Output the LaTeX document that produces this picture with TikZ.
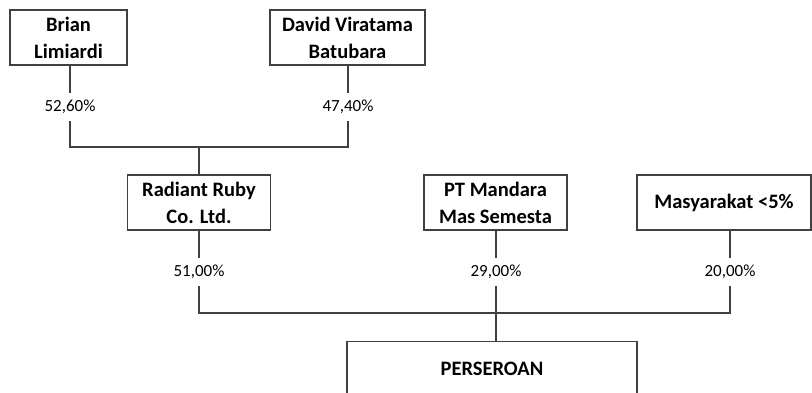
\documentclass[tikz,border=0pt]{standalone}
\usepackage{fontspec}
\setmainfont{Carlito}
\definecolor{linegray}{HTML}{404040}
\begin{document}
\begin{tikzpicture}[x=1pt,y=-1pt,
  box/.style={draw=linegray,line width=1.2pt,align=center,inner sep=0pt,
    font=\fontsize{20.5}{27}\selectfont\bfseries,minimum height=55pt},
  pct/.style={inner sep=0pt,minimum height=28pt,font=\fontsize{17}{20}\selectfont},
  conn/.style={draw=linegray,line width=1.2pt}]
\useasboundingbox (0,0) rectangle (812,392);
\clip (0,0) rectangle (812,392);
\node[box,minimum width=117pt] (brian) at (68.5,37.5) {Brian\\Limiardi};
\node[box,minimum width=155pt] (david) at (347.5,37.5) {David Viratama\\Batubara};
\node[box,minimum width=143pt] (radiant) at (199,202.5) {Radiant Ruby\\Co. Ltd.};
\node[box,minimum width=143pt] (mandara) at (495.5,202.5) {PT Mandara\\Mas Semesta};
\node[box,minimum width=174pt] (masy) at (724,202.5) {Masyarakat <5\%};
\node[box,minimum width=290pt,minimum height=54pt,anchor=north] (pers) at (492,341) {PERSEROAN};
\node[pct] (p1) at (70,107) {52,60\%};
\node[pct] (p2) at (348,107) {47,40\%};
\node[pct] (p3) at (199,272) {51,00\%};
\node[pct] (p4) at (496,272) {29,00\%};
\node[pct] (p5) at (730,272) {20,00\%};
\coordinate (j1) at (199,147);
\coordinate (j2) at (496,313);
\draw[conn] (p1.north |- brian.south) -- (p1.north);
\draw[conn] (p2.north |- david.south) -- (p2.north);
\draw[conn] (p1.south) |- (j1) -| (p2.south);
\draw[conn] (j1) -- (radiant.north);
\draw[conn] (p3.north |- radiant.south) -- (p3.north);
\draw[conn] (p4.north |- mandara.south) -- (p4.north);
\draw[conn] (p5.north |- masy.south) -- (p5.north);
\draw[conn] (p3.south) |- (j2) -| (p5.south);
\draw[conn] (p4.south) -- (pers.north -| p4.south);
\end{tikzpicture}
\end{document}
